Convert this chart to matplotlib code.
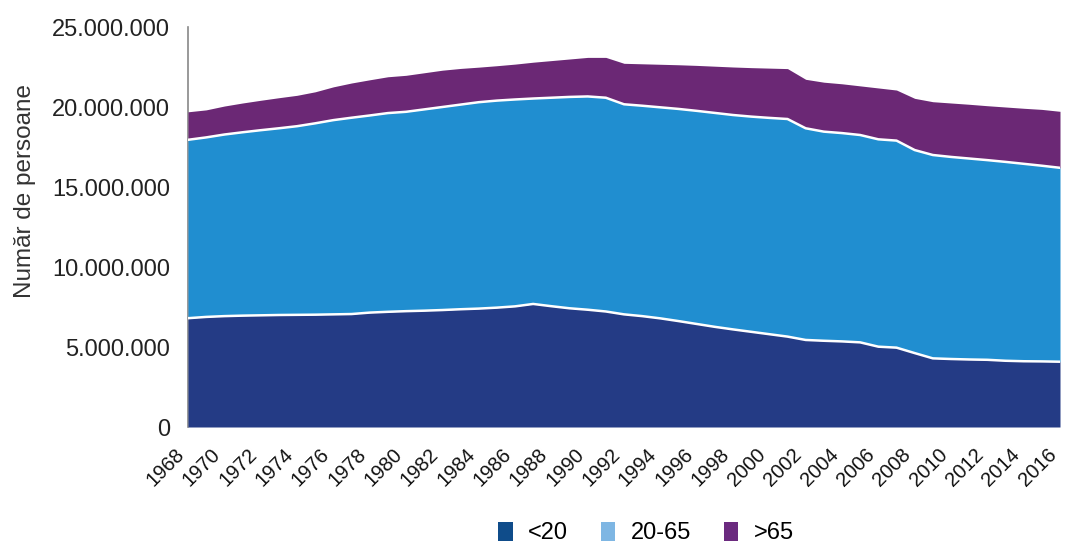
import matplotlib
matplotlib.use("Agg")
import matplotlib.pyplot as plt
import matplotlib.transforms as mtransforms
from matplotlib.patches import Patch
from matplotlib.ticker import FuncFormatter

plt.rcParams['font.family'] = ['Liberation Sans', 'DejaVu Sans']

years = list(range(1968, 2017))

# values in millions of persons
under20 = [6.80, 6.88, 6.93, 6.96, 6.98, 7.00, 7.01, 7.02, 7.04, 7.06,
           7.15, 7.20, 7.24, 7.27, 7.31, 7.36, 7.40, 7.46, 7.54, 7.69,
           7.55, 7.42, 7.33, 7.22, 7.04, 6.93, 6.79, 6.62, 6.44, 6.26,
           6.10, 5.95, 5.80, 5.65, 5.44, 5.39, 5.35, 5.29, 5.02, 4.96,
           4.62, 4.29, 4.25, 4.22, 4.20, 4.14, 4.11, 4.10, 4.08]
age20_65 = [11.15, 11.22, 11.35, 11.46, 11.57, 11.67, 11.79, 11.96, 12.14, 12.27,
            12.32, 12.42, 12.46, 12.58, 12.69, 12.79, 12.90, 12.94, 12.93, 12.84,
            13.03, 13.21, 13.33, 13.36, 13.13, 13.15, 13.19, 13.26, 13.32, 13.37,
            13.40, 13.45, 13.52, 13.60, 13.23, 13.07, 13.02, 12.96, 12.96, 12.94,
            12.69, 12.71, 12.63, 12.56, 12.48, 12.43, 12.34, 12.23, 12.12]
over65 = [1.75, 1.72, 1.78, 1.83, 1.87, 1.91, 1.93, 1.97, 2.08, 2.17,
          2.23, 2.27, 2.28, 2.29, 2.30, 2.26, 2.19, 2.18, 2.21, 2.27,
          2.32, 2.37, 2.44, 2.52, 2.56, 2.62, 2.69, 2.76, 2.84, 2.92,
          3.00, 3.06, 3.11, 3.15, 3.06, 3.09, 3.08, 3.07, 3.21, 3.16,
          3.23, 3.33, 3.37, 3.39, 3.40, 3.43, 3.47, 3.52, 3.53]

series_labels = ['<20', '20-65', '>65']
area_colors = ['#243b85', '#208ed0', '#6b2875']
legend_colors = ['#0f4c8a', '#7eb6e3', '#6b2a7f']
ylabel = 'Număr de persoane'

fig = plt.figure(figsize=(10.66, 5.45), dpi=100)
ax = fig.add_axes([188/1066, 118/545, 872/1066, 400/545])

scale = 1e6
b0 = [0]*len(years)
b1 = [u*scale for u in under20]
b2 = [(u+m)*scale for u, m in zip(under20, age20_65)]
b3 = [(u+m+o)*scale for u, m, o in zip(under20, age20_65, over65)]

ax.fill_between(years, b0, b1, color=area_colors[0], lw=0, zorder=2)
ax.fill_between(years, b1, b2, color=area_colors[1], lw=0, zorder=2)
ax.fill_between(years, b2, b3, color=area_colors[2], lw=0, zorder=2)
ax.plot(years, b1, color='white', lw=1.8, zorder=3)
ax.plot(years, b2, color='white', lw=1.8, zorder=3)

ax.set_xlim(1968, 2016)
ax.set_ylim(0, 25e6)
ax.set_yticks([0, 5e6, 10e6, 15e6, 20e6, 25e6])
ax.yaxis.set_major_formatter(FuncFormatter(lambda v, p: f"{int(v):,}".replace(',', '.')))
ax.set_xticks(years[::2])
ax.set_xticklabels([str(y) for y in years[::2]], rotation=45, ha='right', fontsize=14.5)
offset = mtransforms.ScaledTranslation(8/100, 0, fig.dpi_scale_trans)
for lbl in ax.get_xticklabels():
    lbl.set_transform(lbl.get_transform() + offset)
ax.tick_params(axis='y', length=0, pad=13, labelsize=17, labelcolor='#222222')
ax.tick_params(axis='x', length=0, pad=13, labelcolor='#111111')

for s in ['top', 'right', 'bottom']:
    ax.spines[s].set_visible(False)
ax.spines['left'].set_color('#888888')
ax.spines['left'].set_linewidth(1.2)
ax.spines['left'].set_zorder(1)

fig.text(25/1066, 1 - 191/545, ylabel, rotation=90, ha='center', va='center',
         fontsize=17.5, color='#333333')

handles = [Patch(facecolor=c, edgecolor='none') for c in legend_colors]
fig.legend(handles, series_labels, loc='center', bbox_to_anchor=(646/1066, 1 - 533/545),
           ncol=3, frameon=False, fontsize=17, handlelength=0.6, handleheight=0.9,
           handletextpad=0.65, columnspacing=1.4)

fig.savefig('out.png', dpi=100)
